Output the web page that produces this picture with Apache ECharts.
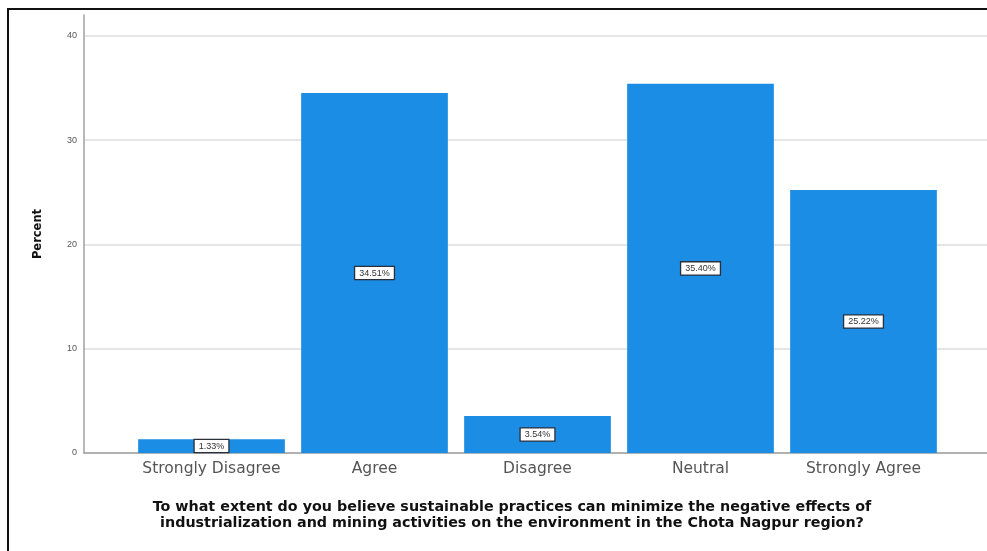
<!DOCTYPE html>
<html>
<head>
<meta charset="utf-8">
<script src="https://cdn.jsdelivr.net/npm/echarts@6/dist/echarts.min.js"></script>
<style>
  html, body { margin: 0; padding: 0; background: #fff; }
  #wrap { position: relative; width: 987px; height: 551px; overflow: hidden; }
  #frame { position: absolute; left: 7px; top: 8px; right: -4px; bottom: -4px;
           border-left: 2px solid #111; border-top: 2px solid #111; pointer-events: none; z-index: 5; }
  #chart { position: absolute; left: 0; top: 0; width: 987px; height: 551px; }
</style>
</head>
<body>
<div id="wrap">
  <div id="chart"></div>
  <div id="frame"></div>
</div>
<script>
// Survey responses (percent of respondents)
const categories = ['Strongly Disagree', 'Agree', 'Disagree', 'Neutral', 'Strongly Agree'];
const percents = [1.33, 34.51, 3.54, 35.40, 25.22];
const yTicks = { min: 0, max: 42, interval: 10 };
const axisTitle = 'To what extent do you believe sustainable practices can minimize the negative effects of\nindustrialization and mining activities on the environment in the Chota Nagpur region?';

const chart = echarts.init(document.getElementById('chart'), null, { renderer: 'canvas' });
const SANS = '"Liberation Sans", Arial, sans-serif';
const WIDE = '"DejaVu Sans", Verdana, sans-serif';

chart.setOption({
  animation: false,
  backgroundColor: '#fff',
  textStyle: { fontFamily: SANS },
  title: {
    text: axisTitle,
    left: 507, top: 494, textAlign: 'center',
    textStyle: { fontFamily: WIDE, fontSize: 14.3, fontWeight: 'bold', color: '#111', lineHeight: 16 }
  },
  grid: [
    // frame grid: y axis, gridlines, baseline across the full width
    { left: 84, right: 0, top: 15, bottom: 98 },
    // bar grid
    { left: 130, width: 815, top: 15, bottom: 98 }
  ],
  xAxis: [
    { gridIndex: 0, type: 'value', min: 0, max: 1,
      axisLine: { show: true, lineStyle: { color: '#a0a0a0', width: 1.5 } },
      axisTick: { show: false }, axisLabel: { show: false }, splitLine: { show: false } },
    { gridIndex: 1, type: 'category', data: categories,
      axisLine: { show: false }, axisTick: { show: false },
      axisLabel: { interval: 0, hideOverlap: false, margin: 8, fontSize: 15.5, color: '#555', fontFamily: WIDE } }
  ],
  yAxis: [
    { gridIndex: 0, type: 'value', min: yTicks.min, max: yTicks.max, interval: yTicks.interval,
      name: 'Percent', nameLocation: 'middle', nameGap: 40,
      nameTextStyle: { fontSize: 11.5, fontWeight: 'bold', color: '#111', fontFamily: WIDE },
      axisLine: { show: true, lineStyle: { color: '#a0a0a0', width: 1.5 } },
      axisTick: { show: false },
      axisLabel: { fontSize: 9, color: '#555', margin: 7, fontFamily: SANS,
                   formatter: v => (v % yTicks.interval === 0 ? String(v) : '') },
      splitLine: { show: true, showMaxLine: false, lineStyle: { color: '#dcdcdc', width: 1.5 } } },
    { gridIndex: 1, type: 'value', min: yTicks.min, max: yTicks.max, interval: yTicks.interval,
      show: false, splitLine: { show: false } }
  ],
  series: [{
    type: 'bar',
    xAxisIndex: 1, yAxisIndex: 1,
    data: percents,
    barCategoryGap: '10%',
    itemStyle: { color: '#1b8de4' },
    label: {
      show: true, position: 'inside',
      formatter: p => p.value.toFixed(2) + '%',
      fontSize: 9, color: '#333', fontFamily: SANS,
      backgroundColor: '#fff', borderColor: '#2a2f3a', borderWidth: 1.3,
      padding: [2, 4, 1, 4]
    }
  }]
});
</script>
</body>
</html>
